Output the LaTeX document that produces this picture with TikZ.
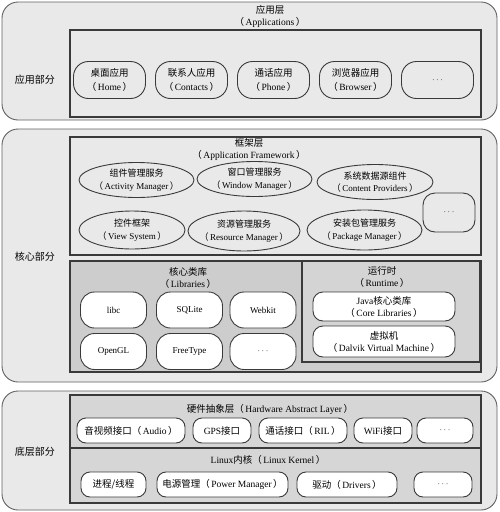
\documentclass[tikz,border=0pt]{standalone}
\usepackage{fontspec}
\setmainfont{Liberation Serif}
\newfontfamily\cjk{Noto Sans CJK SC}
\newcommand{\zh}[1]{{\cjk #1}}
\newcommand{\opar}{\zh{（}\hspace{1.5pt}}
\newcommand{\cpar}{\hspace{1.5pt}\zh{）}}
\usepackage{tikz}
\usetikzlibrary{shapes.geometric, positioning}
\definecolor{panelgray}{HTML}{E9E9E9}
\definecolor{libgray}{HTML}{CDCDCD}
\definecolor{halgray}{HTML}{D6D6D6}
\definecolor{edgegray}{HTML}{3A3A3A}
\tikzstyle{panel} = [rectangle, rounded corners=16pt, draw=edgegray!80, line width=0.9pt, fill=panelgray]
\tikzstyle{layer} = [rectangle, draw=edgegray, line width=1.1pt, fill=panelgray]
\tikzstyle{darklayer} = [rectangle, draw=edgegray, line width=1.1pt, fill=libgray]
\tikzstyle{hallayer} = [rectangle, draw=edgegray, line width=1.1pt, fill=halgray]
\tikzstyle{app} = [rectangle, rounded corners=15pt, minimum width=72pt, minimum height=37pt, align=center, draw=edgegray, line width=0.9pt, fill=panelgray, font=\fontsize{9.5}{14}\selectfont]
\tikzstyle{service} = [ellipse, inner xsep=-5pt, inner ysep=0pt, align=center, draw=edgegray, line width=0.9pt, fill=panelgray, font=\fontsize{9}{12.5}\selectfont]
\tikzstyle{lib} = [rectangle, rounded corners=14pt, minimum width=66pt, minimum height=36pt, align=center, draw=edgegray, line width=0.9pt, fill=white, font=\fontsize{9}{12}\selectfont]
\tikzstyle{runtime} = [rectangle, rounded corners=10pt, minimum width=142pt, minimum height=30pt, align=center, draw=edgegray, line width=0.9pt, fill=white, font=\fontsize{9.5}{12}\selectfont]
\tikzstyle{driver} = [rectangle, rounded corners=9pt, minimum height=25pt, align=center, draw=edgegray, line width=0.9pt, fill=white, font=\fontsize{9.5}{12}\selectfont]
\tikzstyle{title} = [align=center, font=\fontsize{9.5}{12}\selectfont]
\tikzstyle{side} = [font=\cjk\fontsize{10}{12}\selectfont]
\begin{document}
\begin{tikzpicture}[x=1pt, y=1pt, node distance=82pt]

\useasboundingbox (0,0) rectangle (499,-512);

\node (top) [panel, minimum width=495pt, minimum height=118pt] at (249.5,-61) {};

\node (core) [panel, minimum width=495pt, minimum height=253pt] at (249.5,-255.5) {};

\node (base) [panel, minimum width=495pt, minimum height=119pt] at (249.5,-450.5) {};

\node (appside) [side] at (35,-80) {应用部分};

\node (coreside) [side] at (35,-257) {核心部分};

\node (baseside) [side] at (35,-452) {底层部分};

\node (appbox) [layer, minimum width=411pt, minimum height=87pt] at (275.5,-73.5) {};

\node (apptitle) [title] at (270,-16) {\zh{应用层}\\\opar Applications\cpar};

\node (home) [app] at (109.5,-80) {\zh{桌面应用}\\\opar Home\cpar};

\node (contacts) [app, right of=home] {\zh{联系人应用}\\\opar Contacts\cpar};

\node (phone) [app, right of=contacts] {\zh{通话应用}\\\opar Phone\cpar};

\node (browser) [app, right of=phone] {\zh{浏览器应用}\\\opar Browser\cpar};

\node (appmore) [app, right of=browser] {$\cdots$};

\node (framebox) [layer, minimum width=411pt, minimum height=118pt] at (275.5,-196) {};

\node (frametitle) [title] at (249,-150) {\zh{框架层}\\\opar Application Framework\cpar};

\node (activity) [service, minimum width=115pt, minimum height=35pt] at (136.5,-180) {\zh{组件管理服务}\\\opar Activity Manager\cpar};

\node (window) [service, minimum width=115pt, minimum height=35pt] at (254.5,-179) {\zh{窗口管理服务}\\\opar Window Manager\cpar};

\node (content) [service, minimum width=116pt, minimum height=35pt] at (375,-182) {\zh{系统数据源组件}\\\opar Content Providers\cpar};

\node (view) [service, minimum width=106pt, minimum height=38pt] at (132,-230) {\zh{控件框架}\\\opar View System\cpar};

\node (resource) [service, minimum width=112pt, minimum height=40pt] at (244,-231) {\zh{资源管理服务}\\\opar Resource Manager\cpar};

\node (package) [service, minimum width=115pt, minimum height=40pt] at (364.5,-230) {\zh{安装包管理服务}\\\opar Package Manager\cpar};

\node (framemore) [lib, rounded corners=12pt, minimum width=52pt, minimum height=39pt, fill=panelgray] at (449,-212.5) {$\cdots$};

\node (libbox) [darklayer, minimum width=411pt, minimum height=111pt] at (275.5,-316.5) {};

\node (runbox) [darklayer, fill=libgray!85, minimum width=178pt, minimum height=101pt] at (391,-311.5) {};

\node (libtitle) [title] at (188,-278) {\zh{核心类库}\\\opar Libraries\cpar};

\node (runtitle) [title] at (382,-277) {\zh{运行时}\\\opar Runtime\cpar};

\node (libc) [lib] at (113.5,-310) {libc};

\node (sqlite) [lib, right of=libc, xshift=-6pt] {SQLite};

\node (webkit) [lib, right of=sqlite, xshift=-8.5pt] {Webkit};

\node (opengl) [lib, below of=libc, yshift=40.5pt] {OpenGL};

\node (freetype) [lib, below of=sqlite, yshift=40.5pt] {FreeType};

\node (libmore) [lib, below of=webkit, yshift=40.5pt] {$\cdots$};

\node (java) [runtime, minimum height=29pt] at (384,-306.5) {Java\zh{核心类库}\\\opar Core Libraries\cpar};

\node (dalvik) [runtime, minimum height=31pt, below of=java, yshift=47pt] {\zh{虚拟机}\\\opar Dalvik Virtual Machine\cpar};

\node (halbox) [hallayer, minimum width=411pt, minimum height=53pt] at (275.5,-421.5) {};

\node (haltitle) [title] at (270,-409) {\zh{硬件抽象层}\opar Hardware Abstract Layer\cpar};

\node (audio) [driver, minimum width=108pt] at (131,-430.5) {\zh{音视频接口}\opar Audio\cpar};

\node (gps) [driver, minimum width=58pt] at (222,-430.5) {GPS\zh{接口}};

\node (ril) [driver, minimum width=88pt] at (303,-430.5) {\zh{通话接口}\opar RIL\cpar};

\node (wifi) [driver, minimum width=58pt] at (383,-430.5) {WiFi\zh{接口}};

\node (halmore) [driver, minimum width=56pt] at (445,-430.5) {$\cdots$};

\node (linuxbox) [hallayer, minimum width=411pt, minimum height=55pt] at (275.5,-475.5) {};

\node (linuxtitle) [title] at (268,-460) {Linux\zh{内核}\opar Linux Kernel\cpar};

\node (process) [driver, minimum width=65pt] at (113.5,-484.5) {\zh{进程/线程}};

\node (power) [driver, minimum width=131pt] at (222.5,-484.5) {\zh{电源管理}\opar Power Manager\cpar};

\node (drivers) [driver, minimum width=100pt] at (347,-484.5) {\zh{驱动}\opar Drivers\cpar};

\node (linuxmore) [driver, minimum width=58pt] at (443,-484.5) {$\cdots$};

\end{tikzpicture}
\end{document}
